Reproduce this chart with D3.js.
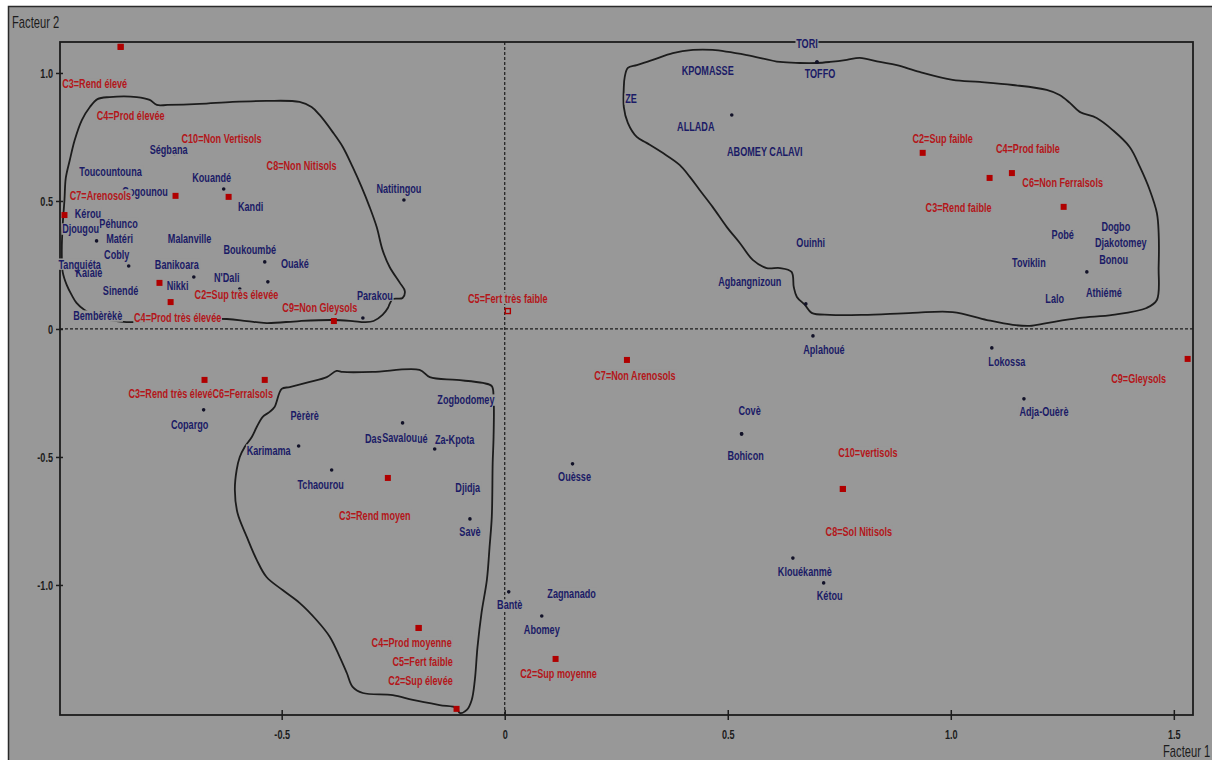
<!DOCTYPE html>
<html>
<head>
<meta charset="utf-8">
<script src="https://cdn.jsdelivr.net/npm/d3@7"></script>
<style>
  html, body { margin: 0; padding: 0; background: #ffffff; }
  svg { display: block; }
  text { font-family: "Liberation Sans", Arial, sans-serif; }
</style>
</head>
<body>
<svg id="chart" width="1212" height="760"></svg>
<script>
// ---- Communes (row points): coordinates on factors 1 and 2 ----
const communeNames = [
  "Ségbana", "Toucountouna", "Gogounou", "Kouandé", "Kandi", "Natitingou",
  "Kérou", "Péhunco", "Djougou", "Matéri", "Cobly", "Kalalé", "Tanguiéta",
  "Malanville", "Boukoumbé", "Ouaké", "Banikoara", "N'Dali", "Nikki", "Sinendé",
  "Bembèrèkè", "Parakou", "Copargo", "Pèrèrè", "Karimama", "Tchaourou",
  "Dassa-Zoumé", "Glazoué", "Savalou", "Za-Kpota", "Zogbodomey", "Djidja", "Savè",
  "Ouèsse", "Bantè", "Zagnanado", "Abomey", "Covè", "Bohicon", "Klouékanmè",
  "Kétou", "Aplahoué", "Lokossa", "Adja-Ouèrè", "Agbangnizoun", "TORI", "TOFFO",
  "KPOMASSE", "ZE", "ALLADA", "ABOMEY CALAVI", "Ouinhi", "Pobé", "Dogbo",
  "Djakotomey", "Bonou", "Toviklin", "Lalo", "Athiémé"
];
const communeF1 = [
  -0.740, -0.868, -0.791, -0.630, -0.619, -0.226,
  -0.930, -0.859, -0.915, -0.859, -0.843, -0.930, -0.944,
  -0.702, -0.538, -0.531, -0.697, -0.594, -0.729, -0.859,
  -0.908, -0.318, -0.675, -0.444, -0.462, -0.388,
  -0.280, -0.217, -0.229, -0.157, -0.087, -0.083, -0.078,
  0.152, 0.009, 0.150, 0.083, 0.531, 0.531, 0.646,
  0.715, 0.691, 1.092, 1.164, 0.675, 0.700, 0.700,
  0.455, 0.283, 0.509, 0.583, 0.686, 1.251, 1.370,
  1.381, 1.365, 1.175, 1.233, 1.305
];
const communeF2 = [
  0.684, 0.609, 0.535, 0.547, 0.516, 0.504,
  0.449, 0.410, 0.344, 0.348, 0.246, 0.211, 0.250,
  0.348, 0.262, 0.184, 0.203, 0.156, 0.164, 0.148,
  0.047, 0.043, -0.316, -0.340, -0.457, -0.551,
  -0.430, -0.430, -0.367, -0.469, -0.285, -0.625, -0.742,
  -0.527, -1.027, -1.039, -1.121, -0.410, -0.410, -0.895,
  -0.992, -0.027, -0.074, -0.273, 0.098, 1.043, 1.043,
  1.004, 0.891, 0.836, 0.684, 0.332, 0.363, 0.391,
  0.332, 0.262, 0.254, 0.113, 0.223
];

// ---- Modalities (column points) ----
const modaliteNames = [
  "C3=Rend élevé", "C4=Prod élevée", "C7=Arenosols", "C10=Non Vertisols",
  "C8=Non Nitisols", "C2=Sup très élevée", "C4=Prod très élevée", "C9=Non Gleysols",
  "C5=Fert très faible", "C3=Rend très élevé", "C6=Ferralsols", "C7=Non Arenosols",
  "C3=Rend moyen", "C4=Prod moyenne", "C5=Fert faible", "C2=Sup élevée",
  "C2=Sup moyenne", "C2=Sup faible", "C4=Prod faible", "C3=Rend faible",
  "C6=Non Ferralsols", "C9=Gleysols", "C10=vertisols", "C8=Sol Nitisols"
];
const modaliteF1 = [
  -0.861, -0.861, -0.987, -0.738,
  -0.619, -0.774, -0.749, -0.383,
  0.007, -0.673, -0.538, 0.274,
  -0.262, -0.193, -0.193, -0.108,
  0.114, 0.937, 1.137, 1.087,
  1.253, 1.531, 0.758, 0.758
];
const modaliteF2 = [
  1.102, 1.102, 0.445, 0.520,
  0.516, 0.180, 0.105, 0.031,
  0.070, -0.199, -0.199, -0.121,
  -0.582, -1.168, -1.168, -1.484,
  -1.289, 0.688, 0.609, 0.590,
  0.477, -0.117, -0.625, -0.625
];
// modality drawn as an open square
const openModalites = ["C5=Fert très faible"];

// ---- Axis ticks ----
const xTickValues = [-0.5, 0, 0.5, 1.0, 1.5];
const yTickValues = [1.0, 0.5, 0, -0.5, -1.0];
const xTitle = "Facteur 1";
const yTitle = "Facteur 2";

// ---- Hand-drawn group outlines (factor coordinates) ----
const outlineNord = [
  [-0.987,0.504],[-0.984,0.590],[-0.975,0.660],[-0.964,0.738],[-0.948,0.816],[-0.930,0.867],
  [-0.913,0.898],[-0.886,0.906],[-0.825,0.906],[-0.796,0.895],[-0.780,0.875],[-0.756,0.875],
  [-0.684,0.879],[-0.610,0.887],[-0.534,0.891],[-0.460,0.887],[-0.433,0.867],[-0.415,0.836],
  [-0.386,0.770],[-0.363,0.711],[-0.341,0.633],[-0.321,0.555],[-0.303,0.477],[-0.287,0.398],
  [-0.274,0.309],[-0.258,0.242],[-0.235,0.180],[-0.224,0.148],[-0.229,0.121],[-0.251,0.117],
  [-0.258,0.098],[-0.262,0.082],[-0.274,0.055],[-0.294,0.031],[-0.314,0.027],[-0.341,0.031],
  [-0.386,0.035],[-0.460,0.031],[-0.534,0.023],[-0.578,0.031],[-0.623,0.039],[-0.729,0.035],
  [-0.848,0.027],[-0.908,0.043],[-0.942,0.074],[-0.960,0.102],[-0.971,0.133],[-0.982,0.172],
  [-0.991,0.223],[-0.993,0.309],[-0.991,0.406]
];
const outlineSud = [
  [0.267,0.867],[0.276,0.805],[0.296,0.750],[0.318,0.727],[0.354,0.688],[0.392,0.641],
  [0.415,0.594],[0.437,0.543],[0.466,0.477],[0.498,0.398],[0.527,0.336],[0.556,0.270],
  [0.587,0.238],[0.617,0.238],[0.643,0.223],[0.648,0.164],[0.655,0.125],[0.673,0.094],
  [0.688,0.063],[0.729,0.055],[0.803,0.055],[0.915,0.063],[1.004,0.066],[1.081,0.035],
  [1.139,0.016],[1.177,0.012],[1.215,0.023],[1.289,0.043],[1.363,0.055],[1.439,0.082],
  [1.462,0.113],[1.466,0.242],[1.466,0.375],[1.462,0.453],[1.446,0.543],[1.424,0.633],
  [1.401,0.711],[1.363,0.777],[1.327,0.824],[1.289,0.848],[1.267,0.883],[1.244,0.914],
  [1.215,0.934],[1.139,0.953],[1.065,0.965],[1.004,0.973],[0.930,1.004],[0.879,1.031],
  [0.841,1.043],[0.796,1.059],[0.767,1.051],[0.729,1.043],[0.700,1.039],[0.661,1.039],
  [0.617,1.043],[0.543,1.070],[0.466,1.090],[0.422,1.090],[0.377,1.078],[0.332,1.051],
  [0.296,1.031],[0.276,1.020],[0.269,0.984],[0.267,0.945]
];
const outlineCentre = [
  [-0.500,-0.234],[-0.482,-0.227],[-0.437,-0.207],[-0.399,-0.188],[-0.377,-0.164],[-0.363,-0.168],
  [-0.296,-0.168],[-0.191,-0.160],[-0.168,-0.188],[-0.108,-0.199],[-0.049,-0.211],[-0.029,-0.223],
  [-0.025,-0.266],[-0.025,-0.422],[-0.027,-0.523],[-0.029,-0.734],[-0.034,-0.852],[-0.040,-0.980],
  [-0.052,-1.109],[-0.061,-1.242],[-0.067,-1.371],[-0.074,-1.449],[-0.085,-1.488],[-0.101,-1.500],
  [-0.108,-1.480],[-0.146,-1.469],[-0.206,-1.449],[-0.251,-1.430],[-0.318,-1.422],[-0.341,-1.398],
  [-0.354,-1.344],[-0.370,-1.281],[-0.392,-1.203],[-0.422,-1.137],[-0.460,-1.070],[-0.498,-1.020],
  [-0.534,-0.969],[-0.556,-0.902],[-0.578,-0.813],[-0.599,-0.719],[-0.605,-0.629],[-0.601,-0.551],
  [-0.594,-0.500],[-0.583,-0.461],[-0.567,-0.422],[-0.556,-0.383],[-0.543,-0.344],[-0.527,-0.324],
  [-0.516,-0.305]
];

// ---- Label placement: offset of each label centre from its point, in pixels ----
const communeLabelNudge = [
  [-6,-4],[-7,-2],[-7,-1],[-12,-12],[22,10],[-5,-12],
  [-2,-1],[-3,-1],[-16,-12],[-2,-1],[-12,-12],[-1,-3],[-4,-1],
  [-2,-1],[-15,-12],[27,-18],[-17,-13],[-13,-12],[-2,-2],[-1,-1],
  [-2,-1],[12,-23],[-14,15],[-2,-1],[-30,4],[-11,14],
  [15,-1],[2,-1],[-3,15],[20,-10],[0,-2],[0,-2],[0,13],
  [2,13],[1,13],[0,-2],[0,14],[8,-23],[4,22],[12,13],
  [6,13],[11,14],[15,14],[20,13],[-56,-22],[-10,-19],[3,11],
  [0,-2],[0,-2],[-36,11],[0,-2],[0,-2],[0,-2],[0,-2],
  [0,-2],[0,-2],[0,-2],[0,-2],[17,21]
];
const modaliteLabelNudge = [
  [-26,37],[10,69],[36,-20],[46,-57],
  [73,-31],[77,12],[7,15],[-14,-14],
  [0,-13],[-34,14],[-22,14],[8,15],
  [-13,37],[-7,14],[4,33],[-36,-28],
  [3,15],[20,-14],[16,-25],[-31,30],
  [-1,-24],[-49,20],[25,-37],[16,42]
];

// ---- Drawing ----
const W = 1212, H = 760;
const BG = "#989898";
const INK = "#1c1c1c";
const NAVY = "#1b1b66";
const RED = "#b3161a";
const SQ = "#b00000";
const SX = 0.70;          // narrow lettering
const plot = { left: 60, top: 42, right: 1193, bottom: 715 };

const svg = d3.select("#chart");
const x = d3.scaleLinear().domain([-0.997, 1.543]).range([plot.left, plot.right]);
const y = d3.scaleLinear().domain([-1.508, 1.121]).range([plot.bottom, plot.top]);

// page and panel
svg.append("rect").attr("width", W).attr("height", H).attr("fill", "#ffffff");
svg.append("rect").attr("x", 8).attr("y", 6).attr("width", W - 8).attr("height", H - 6).attr("fill", BG);
svg.append("path").attr("d", `M8.5,${H}V6.5H${W}`)
  .attr("fill", "none").attr("stroke", "#2a2a2a").attr("stroke-width", 1.5);

// plot frame
svg.append("rect")
  .attr("x", plot.left).attr("y", plot.top)
  .attr("width", plot.right - plot.left).attr("height", plot.bottom - plot.top)
  .attr("fill", "none").attr("stroke", INK).attr("stroke-width", 1.8);

// dotted origin lines
svg.append("line")
  .attr("x1", plot.left).attr("x2", plot.right).attr("y1", y(0)).attr("y2", y(0))
  .attr("stroke", INK).attr("stroke-width", 1.2).attr("stroke-dasharray", "3,2");
svg.append("line")
  .attr("x1", x(0)).attr("x2", x(0)).attr("y1", plot.top).attr("y2", plot.bottom)
  .attr("stroke", INK).attr("stroke-width", 1.2).attr("stroke-dasharray", "3,2");

// axes
const fmt = v => (v === 0 ? "0" : v.toFixed(1));
const gx = svg.append("g").attr("transform", `translate(0,${plot.bottom})`)
  .call(d3.axisBottom(x).tickValues(xTickValues).tickSize(5).tickFormat(fmt));
const gy = svg.append("g").attr("transform", `translate(${plot.left},0)`)
  .call(d3.axisLeft(y).tickValues(yTickValues).tickSize(4).tickFormat(fmt));
[gx, gy].forEach(g => {
  g.select(".domain").remove();
  g.selectAll(".tick line").attr("stroke", INK).attr("stroke-width", 1.5);
  g.selectAll(".tick text").attr("fill", INK).attr("font-size", 13).attr("font-weight", "bold")
    .attr("font-family", "'Liberation Sans', Arial, sans-serif");
});
gx.selectAll(".tick line").attr("y1", -5);
gx.selectAll(".tick text").attr("y", 0).attr("dy", "0.35em")
  .attr("transform", `translate(0,19) scale(${SX},1)`);
gy.selectAll(".tick line").attr("x1", 3);
gy.selectAll(".tick text").attr("x", 0).attr("dy", "0.35em").attr("text-anchor", "end")
  .attr("transform", `translate(-7,0) scale(${SX},1)`);

// group outlines
const outlineLine = d3.line().x(d => x(d[0])).y(d => y(d[1])).curve(d3.curveCatmullRomClosed.alpha(0.5));
[outlineNord, outlineSud, outlineCentre].forEach(o => {
  svg.append("path").attr("d", outlineLine(o))
    .attr("fill", "none").attr("stroke", INK).attr("stroke-width", 1.8);
});

// markers
const markers = svg.append("g");
markers.selectAll("circle").data(communeNames).join("circle")
  .attr("cx", (d, i) => x(communeF1[i])).attr("cy", (d, i) => y(communeF2[i]))
  .attr("r", 1.8).attr("fill", "#121228");
markers.selectAll("rect").data(modaliteNames).join("rect")
  .each(function (d, i) {
    const open = openModalites.includes(d);
    d3.select(this)
      .attr("x", x(modaliteF1[i]) - (open ? 2.5 : 3)).attr("y", y(modaliteF2[i]) - (open ? 2.5 : 3))
      .attr("width", open ? 5 : 6).attr("height", open ? 5 : 6)
      .attr("fill", open ? "none" : SQ)
      .attr("stroke", open ? SQ : "none").attr("stroke-width", open ? 1.4 : 0);
  });

// labels with opaque boxes
const labels = svg.append("g");
function putLabel(px, py, txt, color, size) {
  const g = labels.append("g").attr("transform", `translate(${px},${py}) scale(${SX},1)`);
  const r = g.append("rect").attr("fill", BG);
  const t = g.append("text").attr("text-anchor", "middle").attr("dy", "0.35em")
    .attr("font-size", size).attr("font-weight", "bold").attr("fill", color).text(txt);
  const bb = t.node().getBBox();
  r.attr("x", bb.x - 1).attr("y", bb.y + 1.5).attr("width", bb.width + 2).attr("height", bb.height - 2.5);
}
communeNames.forEach((n, i) => {
  putLabel(x(communeF1[i]) + communeLabelNudge[i][0], y(communeF2[i]) + communeLabelNudge[i][1], n, NAVY, 13);
});
modaliteNames.forEach((n, i) => {
  putLabel(x(modaliteF1[i]) + modaliteLabelNudge[i][0], y(modaliteF2[i]) + modaliteLabelNudge[i][1], n, RED, 13);
});

// axis titles
svg.append("text").attr("transform", `translate(12,28) scale(${SX},1)`)
  .attr("font-size", 16).attr("fill", INK).text(yTitle);
svg.append("text").attr("transform", `translate(1163,757) scale(${SX},1)`)
  .attr("font-size", 16).attr("fill", INK).text(xTitle);
</script>
</body>
</html>
